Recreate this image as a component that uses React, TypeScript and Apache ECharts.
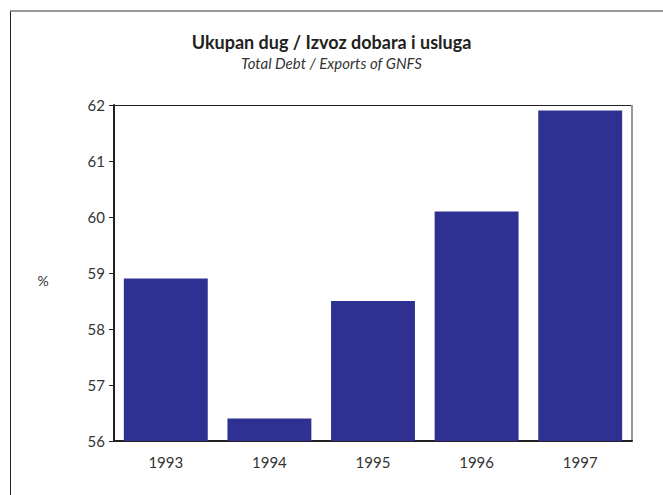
import React, { useEffect, useRef } from "react";
import * as echarts from "echarts";

const categories = ["1993", "1994", "1995", "1996", "1997"];
const values = [58.9, 56.4, 58.5, 60.1, 61.9];
const titleText = "Ukupan dug / Izvoz dobara i usluga";
const subtitleText = "Total Debt / Exports of GNFS";
const yUnit = "%";

export default function App() {
  const ref = useRef<HTMLDivElement>(null);
  useEffect(() => {
    const chart = echarts.init(ref.current!, null, { renderer: "svg" });
    const font = "Lato, 'Open Sans', sans-serif";
    chart.setOption({
      animation: false,
      backgroundColor: "#ffffff",
      title: {
        text: titleText,
        subtext: subtitleText,
        left: "center",
        top: 28,
        itemGap: 4,
        textStyle: { fontFamily: font, fontWeight: "bold", fontSize: 18, color: "#231f20" },
        subtextStyle: { fontFamily: font, fontStyle: "italic", fontSize: 15, color: "#333" },
      },
      grid: { left: 114, right: 31, top: 105, bottom: 54, show: false },
      xAxis: {
        type: "category",
        data: categories,
        axisLine: { show: true, lineStyle: { color: "#231f20", width: 2 } },
        axisTick: { show: false },
        axisLabel: { fontFamily: font, fontSize: 15, color: "#333", margin: 13 },
      },
      yAxis: {
        type: "value",
        min: 56,
        max: 62,
        interval: 1,
        axisLine: { show: true, lineStyle: { color: "#231f20", width: 2 } },
        axisTick: { show: true, length: 5, lineStyle: { color: "#231f20", width: 1 } },
        axisLabel: { fontFamily: font, fontSize: 15, color: "#333", margin: 9 },
        splitLine: { show: false },
      },
      graphic: [
        { type: "line", shape: { x1: 10.5, y1: 11, x2: 10.5, y2: 495 }, style: { stroke: "#222", lineWidth: 1 } },
        { type: "line", shape: { x1: 10, y1: 11, x2: 663, y2: 11 }, style: { stroke: "#777", lineWidth: 1.5 } },
        { type: "line", shape: { x1: 114, y1: 105.5, x2: 632, y2: 105.5 }, style: { stroke: "#231f20", lineWidth: 1 } },
        { type: "line", shape: { x1: 632, y1: 105, x2: 632, y2: 441 }, style: { stroke: "#999", lineWidth: 2 } },
        { type: "text", x: 43, y: 280, style: { text: yUnit, fontFamily: font, fontSize: 14, fill: "#333", align: "center", verticalAlign: "middle" } },
      ],
      series: [
        {
          type: "bar",
          data: values,
          barCategoryGap: "19%",
          itemStyle: { color: "#2e3192" },
          z: 1,
        },
      ],
    });
    return () => chart.dispose();
  }, []);
  return <div ref={ref} style={{ position: "fixed", left: 0, top: 0, width: 663, height: 495 }} />;
}
